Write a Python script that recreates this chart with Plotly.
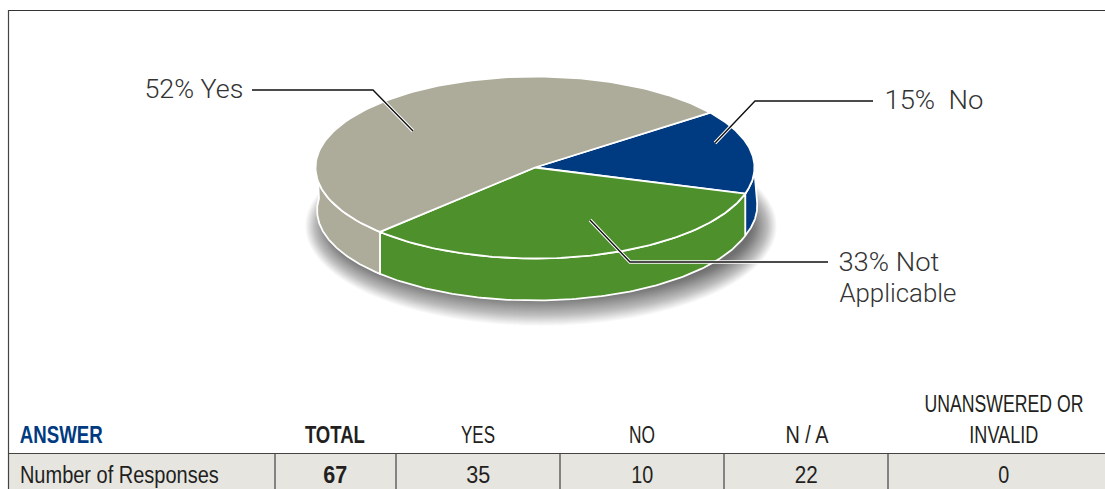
import json
import numpy as np
import plotly.graph_objects as go

# ---- data ----
categories = ["No", "Not Applicable", "Yes"]
responses = [10, 22, 35]
slice_colors = ["#003a80", "#4e912c", "#adab9a"]
callouts = ["15%  No", "33% Not", "Applicable", "52% Yes"]
header_labels = ["TOTAL", "YES", "NO", "N / A", "INVALID"]
row_label = "Number of Responses"
row_values = ["67", "35", "10", "22", "0"]

# ---- geometry (pixel-space axes) ----
W, H = 1105, 489
CX, CY, RX, RY = 535, 167.5, 219.5, 91
DY = 42
START = 37.0
WALL_DX = [(3.5, 0.0), (0.0, 0.0), (0.0, 1.8)]
TEXT = "#231f20"
BODY = "Liberation Sans, Arial, sans-serif"
LIGHT = "Roboto, Liberation Sans, sans-serif"

fig = go.Figure()


def arc(a0, a1, dx0=0.0, dx1=0.0, dy=0.0, n=120):
    t = np.radians(np.linspace(a0, a1, n))
    return CX + np.linspace(dx0, dx1, n) + RX * np.cos(t), CY + dy - RY * np.sin(t)


def poly(x, y, color, lw=1.8):
    fig.add_trace(go.Scatter(x=list(x), y=list(y), mode="lines", fill="toself", fillcolor=color,
                             line=dict(color="white", width=lw), hoverinfo="skip", showlegend=False))


# soft shadow: many faint nested ellipses
shapes = []
N = 45
for i in range(N):
    f = i / (N - 1)
    rx = 236 - 26 * f
    ry = 100 - 30 * f
    cx, cy = 541, 226
    shapes.append(dict(type="circle", xref="x", yref="y", x0=cx - rx, x1=cx + rx, y0=cy - ry, y1=cy + ry,
                       fillcolor="rgba(0,0,0,0.014)", line=dict(width=0), layer="below"))

# slice angles from the data
total = sum(responses)
edges = [START]
for v in responses:
    edges.append(edges[-1] - 360.0 * v / total)

# side walls (front half only)
for i, c in enumerate(slice_colors):
    hi, lo = edges[i], edges[i + 1]
    hi2, lo2 = min(hi, 6.0), max(lo, -187.0)
    if hi2 <= lo2:
        continue
    x1, y1 = arc(hi2, lo2)
    x2, y2 = arc(lo2, hi2, WALL_DX[i][1], WALL_DX[i][0], DY)
    poly(np.r_[x1, x2, x1[0]], np.r_[y1, y2, y1[0]], c)

# top faces
for i, c in enumerate(slice_colors):
    x, y = arc(edges[i], edges[i + 1])
    poly(np.r_[CX, x, CX], np.r_[CY, y, CY], c)

# leader lines
leaders = [
    ([252, 373, 413], [90, 90, 131]),
    ([873, 755, 715], [101, 101, 143]),
    ([828, 630, 590], [262, 262, 220]),
]
for lx, ly in leaders:
    fig.add_trace(go.Scatter(x=lx, y=ly, mode="lines", line=dict(color="white", width=3.4),
                             hoverinfo="skip", showlegend=False))
    fig.add_trace(go.Scatter(x=lx, y=ly, mode="lines", line=dict(color="#111111", width=1.4),
                             hoverinfo="skip", showlegend=False))

# frame and table rules
shapes += [
    dict(type="rect", xref="x", yref="y", x0=9, x1=W, y0=454, y1=H, fillcolor="#e6e5e0", line=dict(width=0)),
    dict(type="line", xref="x", yref="y", x0=8, x1=W, y0=10.5, y1=10.5, line=dict(color="#333", width=1.2)),
    dict(type="line", xref="x", yref="y", x0=8.5, x1=8.5, y0=10, y1=H, line=dict(color="#444", width=1.2)),
    dict(type="line", xref="x", yref="y", x0=8, x1=W, y0=453.5, y1=453.5, line=dict(color="#444", width=1.2)),
]
for xv in [275, 396, 560, 724, 888]:
    shapes.append(dict(type="line", xref="x", yref="y", x0=xv, x1=xv, y0=454, y1=H,
                       line=dict(color="#333", width=1.1)))

ann = []
fit = {}


def text(x0, x1, y, s, size=24, color=TEXT, family=BODY, bold=False, weight=None):
    f = dict(size=size, color=color, family=family)
    if weight:
        f["weight"] = weight
    ann.append(dict(x=(x0 + x1) / 2, y=y, xref="x", yref="y", text=f"<b>{s}</b>" if bold else s,
                    showarrow=False, xanchor="center", yanchor="middle", font=f))
    fit[s] = x1 - x0


CALL = dict(size=26, color="#333333", family=LIGHT, weight=300)
text(144, 243, 89, callouts[3], **CALL)
text(884, 983, 100, callouts[0], **CALL)
text(838, 939, 262, callouts[1], **CALL)
text(839, 956, 293, callouts[2], **CALL)

text(20, 103, 434, "ANSWER", color="#003a80", bold=True)
spans = [(305, 365), (461, 495), (629, 655), (785, 828), (969, 1038)]
value_spans = [(323, 347), (466, 490), (631, 653), (795, 818), (998, 1009)]
for i, (h, v, a, b) in enumerate(zip(header_labels, row_values, spans, value_spans)):
    text(a[0], a[1], 434, h, bold=i == 0)
    text(b[0], b[1], 474, v, bold=i == 0)
text(924, 1083, 403, "UNANSWERED OR")
text(20, 219, 474, row_label)

fig.update_layout(
    width=W, height=H, margin=dict(l=0, r=0, t=0, b=0),
    paper_bgcolor="white", plot_bgcolor="white", showlegend=False,
    xaxis=dict(range=[0, W], visible=False, fixedrange=True),
    yaxis=dict(range=[H, 0], visible=False, fixedrange=True),
    shapes=shapes, annotations=ann,
)
post = """
document.body.style.margin='0';document.body.style.overflow='hidden';
var fit=%s;
document.querySelectorAll('.annotation-text').forEach(function(t){
  var w=fit[t.textContent]; if(!w) return;
  var k=w/t.getComputedTextLength();
  var x=parseFloat(t.getAttribute('x'))||0;
  t.setAttribute('transform','translate('+x+',0) scale('+k+',1) translate('+(-x)+',0)');
});
""" % json.dumps(fit)
fig.write_html("out.html", config=dict(displayModeBar=False), post_script=post)
